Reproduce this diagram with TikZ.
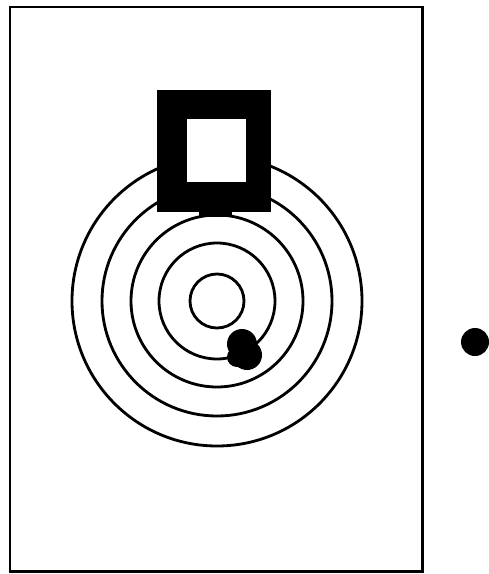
\documentclass[tikz,border=0pt]{standalone}
\begin{document}
\begin{tikzpicture}[
        x=0.02cm, y=-0.02cm,
        sheet/.style={draw, line width=1.7pt},
        ring/.style={draw, line width=1.6pt},
        blackn/.style={fill=black},
        whiten/.style={fill=white},
    ]
    \useasboundingbox (0,0) rectangle (488,574);
    \coordinate (centre) at (217,301);
    % target sheet
    \draw[sheet] (10,7) rectangle (422,571);
    % rings
    \foreach \r in {145,115,86,58,27}
        \draw[ring] (centre) circle (\r);
    % aiming block
    \fill[blackn] (157,90) rectangle (271,212);
    \fill[whiten] (187,119) rectangle (246,182);
    \fill[blackn] (199,210) rectangle (232,217);
    % hit
    \fill[blackn] (242,344) circle (15) (247,355) circle (15) (237,357) circle (10);
    % dot beside the sheet
    \fill[blackn] (475,342) circle (14);
\end{tikzpicture}
\end{document}
